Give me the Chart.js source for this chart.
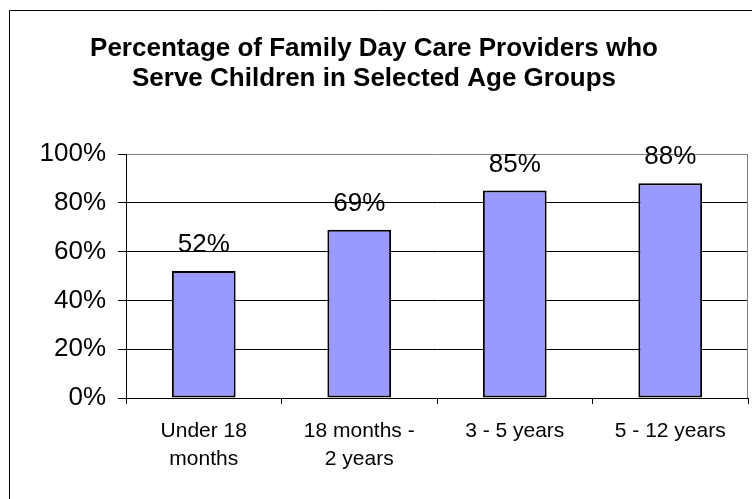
<!DOCTYPE html>
<html>
<head>
<meta charset="utf-8">
<script src="https://cdn.jsdelivr.net/npm/chart.js@4.4.1/dist/chart.umd.min.js"></script>
<style>
  html, body { margin: 0; padding: 0; background: #fff; }
  #wrap { width: 752px; height: 499px; }
</style>
</head>
<body>
<div id="wrap"><canvas id="ageChart" width="752" height="499"></canvas></div>
<script>
// Age groups served by family day care providers
const ageGroups = [["Under 18", "months"], ["18 months -", "2 years"], "3 - 5 years", "5 - 12 years"];
const percentServed = [52, 69, 85, 88];
const yTicks = [0, 20, 40, 60, 80, 100];

const FONT = "'Liberation Sans', Arial, sans-serif";

// Outer frame plus the grey right edge of the plot
const framePlugin = {
    id: "frame",
    beforeDraw(chart) {
        const ctx = chart.ctx;
        ctx.save();
        ctx.strokeStyle = "#000";
        ctx.lineWidth = 1;
        ctx.beginPath();
        ctx.moveTo(9.5, 499);
        ctx.lineTo(9.5, 10.5);
        ctx.lineTo(752, 10.5);
        ctx.stroke();
        ctx.restore();
    },
    afterDraw(chart) {
        const a = chart.chartArea;
        const ctx = chart.ctx;
        ctx.save();
        ctx.strokeStyle = "#808080";
        ctx.lineWidth = 1;
        ctx.beginPath();
        ctx.moveTo(Math.round(a.right) - 0.5, a.top);
        ctx.lineTo(Math.round(a.right) - 0.5, a.bottom);
        ctx.stroke();
        ctx.restore();
    }
};

// Percentage above each bar
const valueLabels = {
    id: "valueLabels",
    afterDatasetsDraw(chart) {
        const ctx = chart.ctx;
        const meta = chart.getDatasetMeta(0);
        ctx.save();
        ctx.font = "26px " + FONT;
        ctx.fillStyle = "#000";
        ctx.textAlign = "center";
        ctx.textBaseline = "alphabetic";
        meta.data.forEach((bar, i) => {
            ctx.fillText(percentServed[i] + "%", bar.x, bar.y - 19);
        });
        ctx.restore();
    }
};

new Chart(document.getElementById("ageChart"), {
    type: "bar",
    data: {
        labels: ageGroups,
        datasets: [{
            data: percentServed,
            backgroundColor: "#9999FF",
            borderColor: "#000",
            borderWidth: 2,
            borderSkipped: false,
            barPercentage: 0.41,
            categoryPercentage: 1
        }]
    },
    options: {
        responsive: false,
        animation: false,
        layout: { padding: { top: 0, right: 4, bottom: 0, left: 0 } },
        plugins: {
            legend: { display: false },
            tooltip: { enabled: false },
            title: {
                display: true,
                text: ["Percentage of Family Day Care Providers who", "Serve Children in Selected Age Groups"],
                color: "#000",
                font: { family: FONT, size: 26, weight: "bold", lineHeight: 1.154 },
                padding: { top: 34, bottom: 60 }
            }
        },
        scales: {
            x: {
                grid: {
                    drawOnChartArea: false,
                    drawTicks: true,
                    tickLength: 6,
                    color: "#000",
                    offset: true
                },
                border: { color: "#000" },
                ticks: {
                    color: "#000",
                    font: { family: FONT, size: 21, lineHeight: 1.33 },
                    padding: 13,
                    maxRotation: 0
                },
                afterFit(scale) { scale.height = 101; }
            },
            y: {
                min: 0,
                max: 100,
                afterBuildTicks(scale) {
                    scale.ticks = yTicks.map(v => ({ value: v }));
                },
                grid: {
                    color: ctx => (ctx.tick && ctx.tick.value === 100 ? "#808080" : "#000"),
                    tickColor: "#000",
                    tickLength: 8
                },
                border: { color: "#000" },
                ticks: {
                    color: "#000",
                    font: { family: FONT, size: 26 },
                    padding: 12,
                    callback: v => v + "%"
                },
                afterFit(scale) { scale.width = 126; }
            }
        }
    },
    plugins: [framePlugin, valueLabels]
});
</script>
</body>
</html>
